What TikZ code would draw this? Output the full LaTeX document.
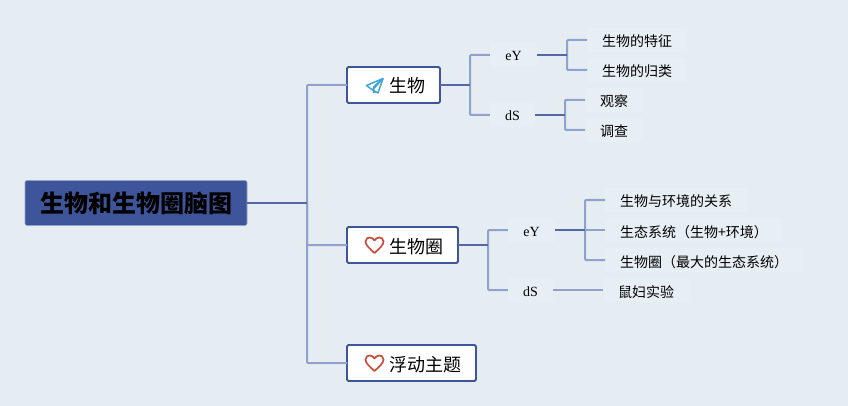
\documentclass[tikz,border=0pt]{standalone}
\usepackage{fontspec}
\setmainfont{Liberation Serif}
\newfontfamily\cjk{Noto Sans CJK SC}
\definecolor{bgc}{HTML}{E5EDF3}
\definecolor{labelbg}{HTML}{E7EEF4}
\definecolor{rootc}{HTML}{3F559B}
\definecolor{darkl}{HTML}{5468A8}
\definecolor{lightl}{HTML}{8FA2CC}
\definecolor{boxl}{HTML}{3F559B}
\definecolor{planec}{HTML}{3FA5D6}
\definecolor{heartc}{HTML}{CC4B3A}
\tikzset{
  x=1pt,y=-1pt,
  rootbox/.style={draw=lightl,line width=.6pt,fill=rootc,rounded corners=2pt,minimum width=222pt,minimum height=45pt,inner sep=0pt,outer sep=0pt,text height=22pt,text depth=3pt,font=\cjk\bfseries\fontsize{24}{24}\selectfont,text=black},
  topicbox/.style={draw=boxl,line width=1.8pt,fill=white,rounded corners=1.5pt,minimum height=36pt,inner sep=0pt,outer sep=0pt,anchor=west,text height=18pt,text depth=2pt,font=\cjk\fontsize{18}{18}\selectfont,text=black},
  keyword/.style={fill=labelbg,inner sep=0pt,minimum height=24pt,text height=14pt,text depth=2pt,font=\fontsize{14}{14}\selectfont,text=black},
  leaf/.style={fill=labelbg,inner xsep=15pt,inner ysep=0pt,minimum height=24pt,anchor=west,text height=16pt,text depth=2pt,font=\cjk\fontsize{14}{14}\selectfont,text=black},
  major/.style={draw=darkl,line width=2pt},
  minor/.style={draw=lightl,line width=2pt,rounded corners=1pt},
  plane/.style={draw=planec,line width=1.5pt,line join=round},
  heart/.style={draw=heartc,line width=1.7pt,line join=round},
}
\newcommand{\heartat}[2]{%
  \draw[heart] (#1,#2+8) .. controls (#1-5,#2+3.5) and (#1-9,#2) .. (#1-9,#2-3.5)
    .. controls (#1-9,#2-6.5) and (#1-6.5,#2-7.5) .. (#1-4.8,#2-7.5)
    .. controls (#1-2.8,#2-7.5) and (#1-1,#2-6.3) .. (#1,#2-4.5)
    .. controls (#1+1,#2-6.3) and (#1+2.8,#2-7.5) .. (#1+4.8,#2-7.5)
    .. controls (#1+6.5,#2-7.5) and (#1+9,#2-6.5) .. (#1+9,#2-3.5)
    .. controls (#1+9,#2) and (#1+5,#2+3.5) .. cycle;}
\begin{document}
\begin{tikzpicture}
\useasboundingbox[fill=bgc] (0,0) rectangle (848,406);
% junctions
\coordinate (j0) at (307,203);
\coordinate (j1) at (470,85);
\coordinate (j2) at (488,245);
\coordinate (j11) at (567,55);
\coordinate (j12) at (565,115);
\coordinate (j21) at (585,230);
% leaves and keywords (backgrounds first)
\node[keyword,minimum width=47pt] (k11) at (513.5,55) {eY};
\node[keyword,minimum width=45pt] (k12) at (512.5,115) {dS};
\node[keyword,minimum width=47pt] (k21) at (531.5,230) {eY};
\node[keyword,minimum width=45pt] (k22) at (530.5,290) {dS};
\node[leaf] (l1) at (587,40) {生物的特征};
\node[leaf] (l2) at (587,70) {生物的归类};
\node[leaf] (l3) at (585,100) {观察};
\node[leaf] (l4) at (585,130) {调查};
\node[leaf] (l5) at (605,200) {生物与环境的关系};
\node[leaf] (l6) at (605,230) {生态系统（生物+环境）};
\node[leaf] (l7) at (605,260) {生物圈（最大的生态系统）};
\node[leaf] (l8) at (603,290) {鼠妇实验};
% main nodes
\node[rootbox] (root) at (136,203) {生物和生物圈脑图};
\node[topicbox] (t1) at (347,85) {\kern42pt 生物\kern15pt\relax};
\node[topicbox] (t2) at (347,245) {\kern42pt 生物圈\kern15pt\relax};
\node[topicbox] (t3) at (347,363) {\kern42pt 浮动主题\kern15pt\relax};
% connectors
\draw[minor] (j0) |- (t1.west);
\draw[minor] (j0) |- (t2.west);
\draw[minor] (j0) |- (t3.west);
\draw[major] (root.east) -- (j0);
\draw[minor] (j1) |- (k11.west);
\draw[minor] (j1) |- (k12.west);
\draw[major] (t1.east) -- (j1);
\draw[minor] (j2) |- (k21.west);
\draw[minor] (j2) |- (k22.west);
\draw[major] (t2.east) -- (j2);
\draw[minor] (j11) |- (l1.west);
\draw[minor] (j11) |- (l2.west);
\draw[major] (k11.east) -- (j11);
\draw[minor] (j12) |- (l3.west);
\draw[minor] (j12) |- (l4.west);
\draw[major] (k12.east) -- (j12);
\draw[minor] (j21) |- (l5.west);
\draw[minor] (j21) |- (l7.west);
\draw[minor] (j21) -- (l6.west);
\draw[major] (k21.east) -- (j21);
\draw[minor] (k22.east) -- (l8.west);
% icons
\draw[plane] (383,78.5) -- (366.5,85.5) -- (372.5,90) -- cycle;
\draw[plane] (383,78.5) -- (378,93) -- (372.5,90);
\draw[plane] (383,78.5) -- (373.5,87) -- (373.5,92.5) -- (376,91.5);
\heartat{374.5}{245}
\heartat{374.5}{363}
\end{tikzpicture}
\end{document}
